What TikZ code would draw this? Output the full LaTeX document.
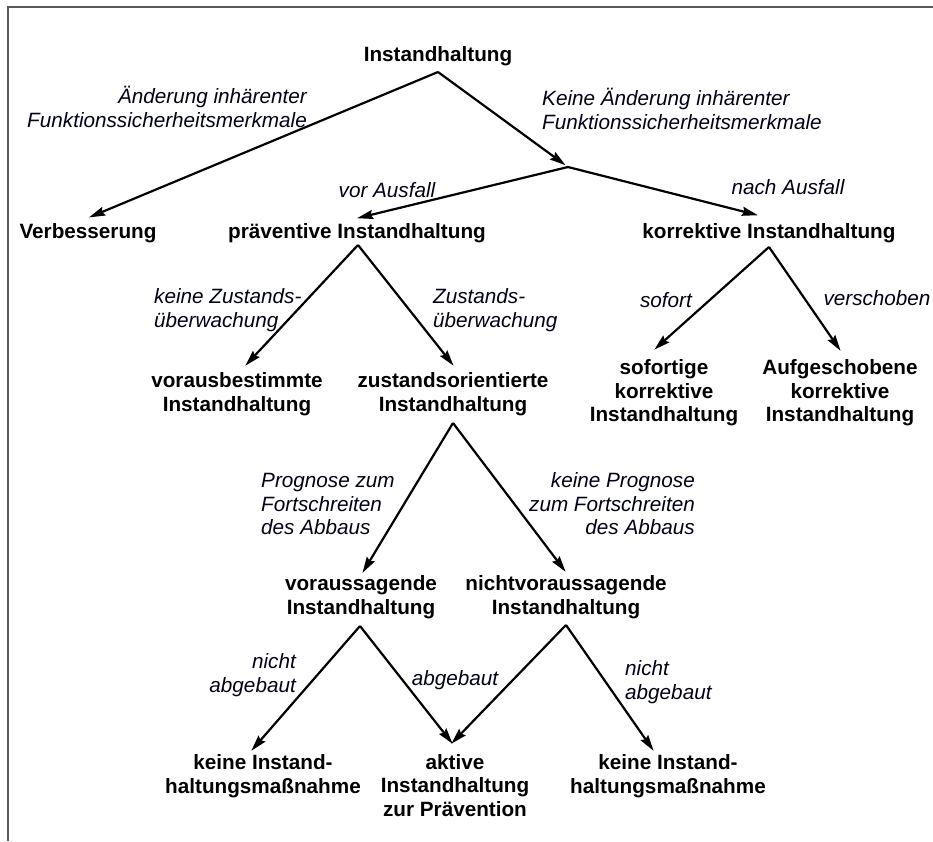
\documentclass[tikz,border=0pt]{standalone}
\usepackage{fontspec}
\setmainfont{Liberation Sans}
\usetikzlibrary{arrows.meta}
\tikzset{
  box/.style={font=\bfseries\fontsize{20.7}{23.5}\selectfont, align=center, inner sep=0pt},
  lab/.style={font=\itshape\fontsize{20.7}{23.5}\selectfont, inner sep=0pt, text=black!90!blue},
  conn/.style={line width=2.2pt, -{Stealth[length=16pt,width=9pt,inset=2pt]}, shorten >=-1pt},
  frame/.style={line width=2pt, draw=black!65}
}
\begin{document}
\begin{tikzpicture}[x=1pt,y=-1pt]
\useasboundingbox (0,0) rectangle (933,841);
\draw[frame] (8,841) -- (8,7) -- (933,7);

% nodes
\node[box] (root) at (438,56) {Instandhaltung};
\node[box] (verb) at (88,233) {Verbesserung};
\node[box] (prae) at (357,233) {präventive Instandhaltung};
\node[box] (korr) at (769,233) {korrektive Instandhaltung};
\node[box] (vorb) at (237,394) {vorausbestimmte\\Instandhaltung};
\node[box] (zust) at (453,394) {zustandsorientierte\\Instandhaltung};
\node[box] (sofk) at (664,393) {sofortige\\korrektive\\Instandhaltung};
\node[box] (aufk) at (840,393) {Aufgeschobene\\korrektive\\Instandhaltung};
\node[box] (vors) at (361,597) {voraussagende\\Instandhaltung};
\node[box] (nvor) at (566,597) {nichtvoraussagende\\Instandhaltung};
\node[box] (kein1) at (263,776) {keine Instand-\\haltungsmaßnahme};
\node[box,anchor=north] (akti) at (455,754) {aktive\\Instandhaltung\\zur Prävention};
\node[box] (kein2) at (668,776) {keine Instand-\\haltungsmaßnahme};

% connector points
\coordinate (rootA) at (438,72);
\coordinate (J) at (568,167);
\coordinate (verbT) at (90,217);
\coordinate (praeT) at (358,218);
\coordinate (korrT) at (757,215);
\coordinate (praeA) at (358,245);
\coordinate (vorbT) at (246,365);
\coordinate (zustT) at (453,365);
\coordinate (korrA) at (769,247);
\coordinate (sofkT) at (655,349);
\coordinate (aufkT) at (840,350);
\coordinate (zustA) at (453,423);
\coordinate (vorsT) at (363,572);
\coordinate (nvorT) at (565,571);
\coordinate (vorsA) at (360,626);
\coordinate (nvorA) at (566,625);
\coordinate (kein1T) at (252,750);
\coordinate (aktiT) at (452,743);
\coordinate (kein2T) at (653,750);

% connectors
\draw[conn] (rootA) -- (verbT);
\draw[conn, shorten >=3pt] (rootA) -- (J);
\draw[conn] (J) -- (praeT);
\draw[conn] (J) -- (korrT);
\draw[conn] (praeA) -- (vorbT);
\draw[conn] (praeA) -- (zustT);
\draw[conn] (korrA) -- (sofkT);
\draw[conn] (korrA) -- (aufkT);
\draw[conn] (zustA) -- (vorsT);
\draw[conn] (zustA) -- (nvorT);
\draw[conn] (vorsA) -- (kein1T);
\draw[conn] (vorsA) -- (aktiT);
\draw[conn] (nvorA) -- (aktiT);
\draw[conn] (nvorA) -- (kein2T);

% labels
\node[lab, align=right, anchor=east] (l1) at (307,107) {Änderung inhärenter\\Funktionssicherheitsmerkmale};
\node[lab, align=left, anchor=west] (l2) at (542,109) {Keine Änderung inhärenter\\Funktionssicherheitsmerkmale};
\node[lab] (l3) at (387,190) {vor Ausfall};
\node[lab] (l4) at (788,187) {nach Ausfall};
\node[lab, align=left, anchor=west] (l5) at (154,310) {keine Zustands-\\überwachung};
\node[lab, align=left, anchor=west] (l6) at (433,310) {Zustands-\\überwachung};
\node[lab] (l7) at (666,300) {sofort};
\node[lab] (l8) at (877,298) {verschoben};
\node[lab, align=left, anchor=west] (l9) at (261,504) {Prognose zum\\Fortschreiten\\des Abbaus};
\node[lab, align=right, anchor=east] (l10) at (695,504) {keine Prognose\\zum Fortschreiten\\des Abbaus};
\node[lab, align=right, anchor=east] (l11) at (296,675) {nicht\\abgebaut};
\node[lab] (l12) at (455,680) {abgebaut};
\node[lab, align=left, anchor=west] (l13) at (625,682) {nicht\\abgebaut};
\end{tikzpicture}
\end{document}
